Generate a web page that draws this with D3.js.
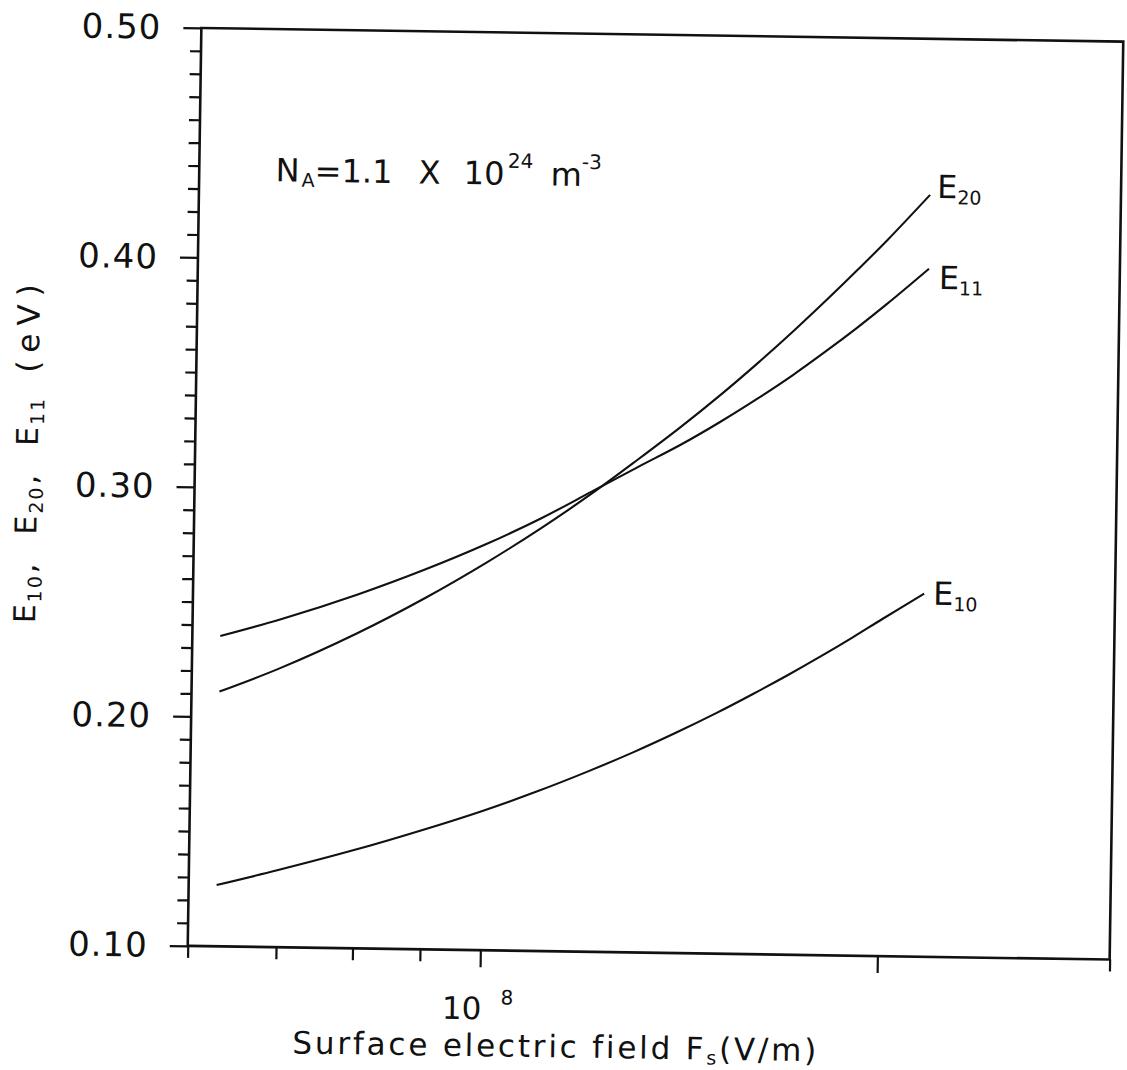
<!DOCTYPE html>
<html><head><meta charset="utf-8">
<script src="https://cdn.jsdelivr.net/npm/d3@7"></script>
<style>
body{margin:0;background:#fff}
svg{display:block}
text{font-family:"DejaVu Sans",sans-serif;fill:#111}
</style>
</head><body><div id="chart"></div>
<script>
// ---- data ----
const fieldValues = [6.3e7, 7e7, 8e7, 9e7, 1.0e8, 1.1e8, 1.2e8, 1.3e8, 1.4e8, 1.5e8, 1.6e8, 1.7e8, 1.8e8, 1.9e8, 2.0e8, 2.15e8];
const e20Values = [0.2110, 0.2216, 0.2373, 0.2531, 0.2688, 0.2843, 0.2996, 0.3148, 0.3293, 0.3436, 0.3578, 0.3718, 0.3856, 0.3991, 0.4123, 0.4320];
const e11Values = [0.2352, 0.2429, 0.2542, 0.2656, 0.2770, 0.2886, 0.3005, 0.3115, 0.3215, 0.3318, 0.3422, 0.3526, 0.3632, 0.3737, 0.3842, 0.3998];
const e10Values = [0.1267, 0.1335, 0.1428, 0.1519, 0.1607, 0.1696, 0.1785, 0.1873, 0.1961, 0.2048, 0.2135, 0.2220, 0.2304, 0.2387, 0.2469, 0.2582];
const seriesSubs = ["20", "11", "10"];
const yTickValues = [0.10, 0.20, 0.30, 0.40, 0.50];
const yTickLabels = ["0.10", "0.20", "0.30", "0.40", "0.50"];
const yMinorTicks = [0.11,0.12,0.13,0.14,0.15,0.16,0.17,0.18,0.19,0.21,0.22,0.23,0.24,0.25,0.26,0.27,0.28,0.29,0.31,0.32,0.33,0.34,0.35,0.36,0.37,0.38,0.39,0.41,0.42,0.43,0.44,0.45,0.46,0.47,0.48,0.49];
const xMinorTicks = [6e7, 7e7, 8e7, 9e7, 3e8];
const xMajorTicks = [1e8, 2e8];

// ---- layout ----
const W = 1127, H = 1070;
const frame = {left: 194.5, right: 1116.5, top: 34.75, bottom: 952.75};
const cx = (frame.left + frame.right) / 2, cy = (frame.top + frame.bottom) / 2;
const ink = "#111";

const svg = d3.select("#chart").append("svg").attr("width", W).attr("height", H);
svg.append("rect").attr("width", W).attr("height", H).attr("fill", "#fff");
const g = svg.append("g").attr("transform", `rotate(0.85,${cx},${cy})`);

const x = d3.scaleLog().domain([6e7, 3e8]).range([frame.left, frame.right]);
const y = d3.scaleLinear().domain([0.1, 0.5]).range([frame.bottom, frame.top]);

// frame
g.append("rect")
  .attr("x", frame.left).attr("y", frame.top)
  .attr("width", frame.right - frame.left).attr("height", frame.bottom - frame.top)
  .attr("fill", "none").attr("stroke", ink).attr("stroke-width", 2.6);

function styleAxis(sel) {
  sel.select(".domain").remove();
  sel.selectAll(".tick line").attr("stroke", ink).attr("stroke-width", 2.2);
  sel.selectAll(".tick text").attr("fill", ink).attr("font-family", '"DejaVu Sans", sans-serif');
}

// y axis
g.append("g").attr("transform", `translate(${frame.left},0)`)
  .call(d3.axisLeft(y).tickValues(yMinorTicks).tickSize(11).tickFormat(""))
  .call(styleAxis);
g.append("g").attr("transform", `translate(${frame.left},0)`)
  .call(d3.axisLeft(y).tickValues(yTickValues).tickSize(18).tickPadding(22)
    .tickFormat((d, i) => yTickLabels[i]))
  .call(styleAxis)
  .call(s => s.selectAll(".tick text").attr("font-size", 34).attr("letter-spacing", 1));

// x axis
g.append("g").attr("transform", `translate(0,${frame.bottom})`)
  .call(d3.axisBottom(x).tickValues(xMinorTicks).tickSize(12).tickFormat(""))
  .call(styleAxis);
g.append("g").attr("transform", `translate(0,${frame.bottom})`)
  .call(d3.axisBottom(x).tickValues(xMajorTicks).tickSize(17).tickFormat(""))
  .call(styleAxis);

// x tick label 10^8
g.append("text").attr("font-size", 31)
  .attr("x", x(1e8) + 2).attr("y", frame.bottom + 69).attr("text-anchor", "end").text("10");
g.append("text").attr("font-size", 20)
  .attr("x", x(1e8) + 21).attr("y", frame.bottom + 54).text("8");

// x axis title
const xTitle = g.append("text").attr("font-size", 31).attr("text-anchor", "middle")
  .attr("letter-spacing", 2.8)
  .attr("x", 564).attr("y", frame.bottom + 106);
xTitle.append("tspan").text("Surface electric field F");
xTitle.append("tspan").attr("font-size", 19).attr("dy", 5).text("s");
xTitle.append("tspan").attr("dy", -5).text("(V/m)");

// y axis title
const yTitle = g.append("text").attr("font-size", 30).attr("letter-spacing", 2)
  .attr("transform", `translate(37,459) rotate(-90)`)
  .attr("text-anchor", "middle");
const yParts = [
  {t: "E", s: 30, dy: 0, dx: 0},
  {t: "10", s: 19, dy: 6, dx: 0},
  {t: ",", s: 30, dy: -6, dx: 1},
  {t: "E", s: 30, dy: 0, dx: 27},
  {t: "20", s: 19, dy: 6, dx: 0},
  {t: ",", s: 30, dy: -6, dx: 1},
  {t: "E", s: 30, dy: 0, dx: 27},
  {t: "11", s: 19, dy: 6, dx: 0},
  {t: "(eV)", s: 31, dy: -6, dx: 24, ls: 8}
];
yParts.forEach(p => {
  const ts = yTitle.append("tspan").attr("font-size", p.s).attr("dx", p.dx).attr("dy", p.dy).text(p.t);
  if (p.ls) ts.attr("letter-spacing", p.ls);
});

// annotation N_A = 1.1 X 10^24 m^-3
const ann = [
  {t: "N", x: 271, y: 187, s: 32},
  {t: "A", x: 297, y: 192, s: 19},
  {t: "=1.1", x: 310, y: 187, s: 32},
  {t: "X", x: 414, y: 187, s: 32},
  {t: "10", x: 459, y: 187, s: 32},
  {t: "24", x: 503, y: 170, s: 20},
  {t: "m", x: 546, y: 187, s: 32},
  {t: "-3", x: 577, y: 170, s: 20}
];
const annText = g.append("text");
ann.forEach(a => annText.append("tspan").attr("x", a.x).attr("y", a.y).attr("font-size", a.s).text(a.t));

// curves
const series = [e20Values, e11Values, e10Values];
const line = d3.line()
  .x((d, i) => x(fieldValues[i]))
  .y(d => y(d))
  .curve(d3.curveCatmullRom.alpha(0.5));
series.forEach(vals => {
  g.append("path").attr("d", line(vals))
    .attr("fill", "none").attr("stroke", ink).attr("stroke-width", 2.1);
});

// curve labels
const labelOffsets = [{dx: 7, dy: 3}, {dx: 10, dy: 20}, {dx: 9, dy: 11}];
series.forEach((vals, k) => {
  const n = vals.length - 1;
  const t = g.append("text").attr("font-size", 32)
    .attr("x", x(fieldValues[n]) + labelOffsets[k].dx)
    .attr("y", y(vals[n]) + labelOffsets[k].dy);
  t.append("tspan").text("E");
  t.append("tspan").attr("font-size", 19).attr("dy", 6).text(seriesSubs[k]);
});
</script>
</body></html>
